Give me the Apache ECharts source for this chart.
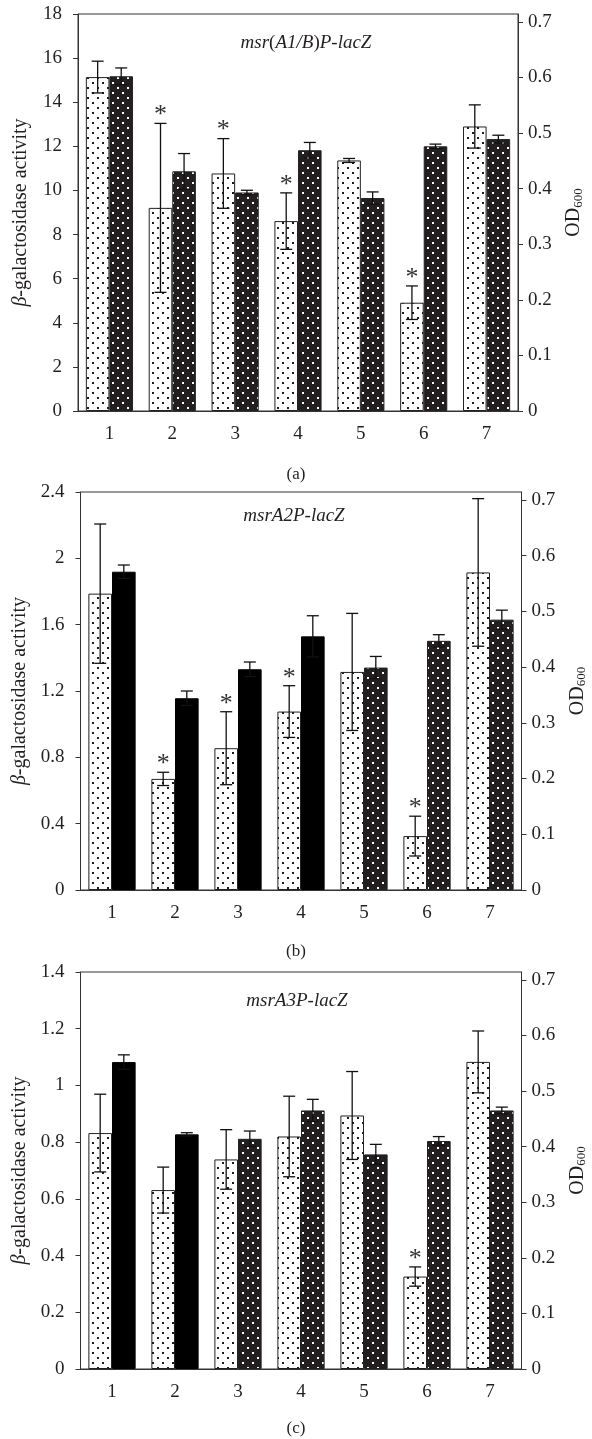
<!DOCTYPE html>
<html>
<head>
<meta charset="utf-8">
<title>beta-galactosidase activity / OD600</title>
<script src="https://cdn.jsdelivr.net/npm/echarts@6/dist/echarts.min.js"></script>
<style>body{margin:0;background:#fff;}</style>
</head>
<body>
<div id="main" style="width:592px;height:1439px;"></div>
<script>
var categories = ['1', '2', '3', '4', '5', '6', '7'];
var odTicks = [0, 0.1, 0.2, 0.3, 0.4, 0.5, 0.6, 0.7];

// (a) msr(A1/B)P-lacZ
var actA    = [15.14, 9.21, 10.77, 8.61, 11.36, 4.91, 12.9];
var actErrA = [0.72, 3.83, 1.58, 1.28, 0.09, 0.76, 0.98];
var odA     = [0.602, 0.431, 0.393, 0.469, 0.383, 0.476, 0.489];
var odErrA  = [0.015, 0.032, 0.004, 0.014, 0.011, 0.004, 0.007];
var starA   = [0, 1, 1, 1, 0, 1, 0];

// (b) msrA2P-lacZ
var actB    = [1.787, 0.670, 0.855, 1.076, 1.315, 0.325, 1.915];
var actErrB = [0.42, 0.04, 0.22, 0.156, 0.353, 0.12, 0.445];
var odB     = [0.571, 0.344, 0.396, 0.455, 0.399, 0.447, 0.485];
var odErrB  = [0.012, 0.013, 0.013, 0.037, 0.02, 0.011, 0.017];
var starB   = [0, 1, 1, 1, 0, 1, 0];

// (c) msrA3P-lacZ
var actC    = [0.832, 0.631, 0.739, 0.820, 0.894, 0.326, 1.083];
var actErrC = [0.137, 0.081, 0.105, 0.142, 0.155, 0.034, 0.109];
var odC     = [0.552, 0.422, 0.414, 0.465, 0.386, 0.410, 0.465];
var odErrC  = [0.013, 0.003, 0.014, 0.02, 0.018, 0.008, 0.006];
var starC   = [0, 0, 0, 0, 0, 1, 0];

var FONT = '"Liberation Serif", "DejaVu Serif", serif';
var INK = '#231f20';
var BAR_FRAC = 0.375;

// dotted fills (staggered dots)
function dotTile(bg, dot) {
    var c = document.createElement('canvas');
    c.width = 10; c.height = 10;
    var g = c.getContext('2d');
    g.fillStyle = bg;
    g.fillRect(0, 0, 10, 10);
    g.fillStyle = dot;
    g.fillRect(2, 2, 2, 2);
    g.fillRect(7, 7, 2, 2);
    return c;
}
var lightFill = {image: dotTile('#ffffff', '#1a1a1a'), repeat: 'repeat'};
var darkFill = {image: dotTile('#231f20', '#ffffff'), repeat: 'repeat'};

var panels = [
    {act: actA, actErr: actErrA, od: odA, odErr: odErrA, star: starA, solid: 0,
     max: 18, interval: 2, grid: {left: 78, top: 14, width: 440, height: 397},
     title: '{i|msr}{n|(}{i|A1/B}{n|)}{i|P-lacZ}', tx: 306, ty: 43, cap: '(a)', cy: 475},
    {act: actB, actErr: actErrB, od: odB, odErr: odErrB, star: starB, solid: 4,
     max: 2.4, interval: 0.4, grid: {left: 80.5, top: 492, width: 441, height: 398},
     title: '{i|msrA2P-lacZ}', tx: 294, ty: 516, cap: '(b)', cy: 952},
    {act: actC, actErr: actErrC, od: odC, odErr: odErrC, star: starC, solid: 2,
     max: 1.4, interval: 0.2, grid: {left: 80.5, top: 972, width: 441, height: 397},
     title: '{i|msrA3P-lacZ}', tx: 297, ty: 1001, cap: '(c)', cy: 1429}
];

function errRender(side) {
    return function (params, api) {
        var i = api.value(0), v = api.value(1), e = api.value(2), star = api.value(3);
        var band = api.size([1, 0])[0];
        var x = api.coord([i, 0])[0] + side * band * BAR_FRAC / 2;
        var yTop = api.coord([i, v + e])[1];
        var yBot = api.coord([i, v - e])[1];
        var st = {stroke: '#111', lineWidth: 1.3};
        var kids = [
            {type: 'line', shape: {x1: x, y1: yTop, x2: x, y2: yBot}, style: st},
            {type: 'line', shape: {x1: x - 6, y1: yTop, x2: x + 6, y2: yTop}, style: st},
            {type: 'line', shape: {x1: x - 6, y1: yBot, x2: x + 6, y2: yBot}, style: st}
        ];
        if (star) {
            kids.push({type: 'text', x: x, y: yTop - 8, style: {
                text: '*', fontSize: 26, fontFamily: FONT, fill: '#333',
                textAlign: 'center', textVerticalAlign: 'middle'}});
        }
        return {type: 'group', children: kids};
    };
}

var grids = [], xAxes = [], yAxes = [], series = [], graphics = [];

panels.forEach(function (p, k) {
    grids.push(Object.assign({show: true, borderColor: '#333', borderWidth: 1,
        backgroundColor: 'transparent', outerBoundsMode: 'none'}, p.grid));

    xAxes.push({
        type: 'category', gridIndex: k, data: categories,
        axisLine: {lineStyle: {color: '#333', width: 1}},
        axisTick: {alignWithLabel: true, length: 5, lineStyle: {color: '#333'}},
        axisLabel: {fontFamily: FONT, fontSize: 19, color: INK, margin: 14},
        splitLine: {show: false}
    });

    yAxes.push({
        type: 'value', gridIndex: k, position: 'left', min: 0, max: p.max, interval: p.interval,
        name: '{b|β}-galactosidase activity', nameLocation: 'middle', nameGap: 47, nameRotate: 90,
        nameTextStyle: {fontFamily: FONT, fontSize: 20, color: INK,
            rich: {b: {fontFamily: FONT, fontSize: 20, fontStyle: 'italic', color: INK}}},
        axisLine: {show: true, lineStyle: {color: '#333', width: 1}},
        axisTick: {show: true, length: 5, lineStyle: {color: '#333'}},
        axisLabel: {fontFamily: FONT, fontSize: 19, color: INK, margin: 16},
        splitLine: {show: false}
    });

    yAxes.push({
        type: 'value', gridIndex: k, position: 'right', min: 0, max: 0.714, interval: 0.1,
        name: '{n|OD}{s|600}', nameLocation: 'middle', nameGap: 45, nameRotate: 90,
        nameTextStyle: {fontFamily: FONT, fontSize: 20, color: INK,
            rich: {n: {fontFamily: FONT, fontSize: 20, color: INK, lineHeight: 22},
                   s: {fontFamily: FONT, fontSize: 13, color: INK, lineHeight: 6, verticalAlign: 'bottom'}}},
        axisLine: {show: true, lineStyle: {color: '#333', width: 1}},
        axisTick: {show: true, length: 5, customValues: odTicks, lineStyle: {color: '#333'}},
        axisLabel: {fontFamily: FONT, fontSize: 19, color: INK, margin: 10, customValues: odTicks,
            formatter: function (v) {
                return Math.abs(v * 10 - Math.round(v * 10)) < 1e-6 ? String(Math.round(v * 10) / 10) : '';
            }},
        splitLine: {show: false}
    });

    var odData = p.od.map(function (v, i) {
        return i < p.solid ? {value: v, itemStyle: {color: '#000', borderColor: '#000'}} : v;
    });

    series.push({
        type: 'bar', xAxisIndex: k, yAxisIndex: 2 * k, data: p.act,
        barWidth: (BAR_FRAC * 100) + '%', barGap: '0%',
        itemStyle: {color: lightFill, borderColor: '#222', borderWidth: 1},
        emphasis: {disabled: true}, silent: true
    });
    series.push({
        type: 'bar', xAxisIndex: k, yAxisIndex: 2 * k + 1, data: odData,
        barWidth: (BAR_FRAC * 100) + '%', barGap: '0%',
        itemStyle: {color: darkFill, borderColor: '#222', borderWidth: 1},
        emphasis: {disabled: true}, silent: true
    });
    series.push({
        type: 'custom', xAxisIndex: k, yAxisIndex: 2 * k, z: 5, silent: true,
        renderItem: errRender(-1),
        data: p.act.map(function (v, i) { return [i, v, p.actErr[i], p.star[i]]; })
    });
    series.push({
        type: 'custom', xAxisIndex: k, yAxisIndex: 2 * k + 1, z: 5, silent: true,
        renderItem: errRender(1),
        data: p.od.map(function (v, i) { return [i, v, p.odErr[i], 0]; })
    });

    graphics.push({
        type: 'text', x: p.tx, y: p.ty,
        style: {text: p.title, textAlign: 'center', textVerticalAlign: 'middle',
            rich: {i: {fontFamily: FONT, fontSize: 19, fontStyle: 'italic', fill: INK, color: INK},
                   n: {fontFamily: FONT, fontSize: 19, fill: INK, color: INK}}}
    });
    graphics.push({
        type: 'text', x: 296, y: p.cy,
        style: {text: p.cap, font: '17px ' + FONT, fill: INK, textAlign: 'center', textVerticalAlign: 'middle'}
    });
});

var myChart = echarts.init(document.getElementById('main'), null, {renderer: 'canvas'});
myChart.setOption({
    animation: false,
    backgroundColor: '#ffffff',
    grid: grids,
    xAxis: xAxes,
    yAxis: yAxes,
    series: series,
    graphic: graphics
});
</script>
</body>
</html>
